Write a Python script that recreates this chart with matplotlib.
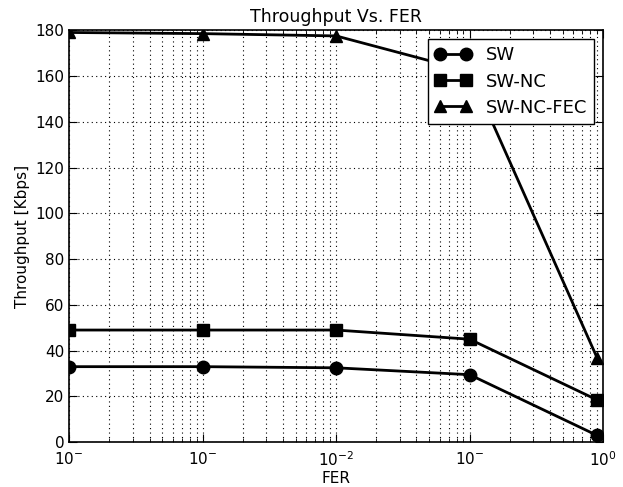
import matplotlib
matplotlib.use("Agg")
import matplotlib.pyplot as plt
from matplotlib.ticker import FixedLocator, FixedFormatter, LogLocator, NullFormatter

fer = [1e-4, 1e-3, 1e-2, 1e-1, 0.9]
sw = [33, 33, 32.5, 29.5, 3]
sw_nc = [49, 49, 49, 45, 18.5]
sw_nc_fec = [179, 178.5, 177.5, 162, 37]
xtick_vals = [1e-4, 1e-3, 1e-2, 1e-1, 1e0]
xtick_labels = ['$10^{-}$', '$10^{-}$', '$10^{-2}$', '$10^{-}$', '$10^{0}$']
yticks = [0, 20, 40, 60, 80, 100, 120, 140, 160, 180]

plt.rcParams['font.family'] = 'DejaVu Sans'
plt.rcParams['mathtext.default'] = 'regular'

fig = plt.figure(figsize=(6.23, 4.87), dpi=100)
ax = fig.add_axes([0.111, 0.092, 0.857, 0.846])

ax.plot(fer, sw, 'k-o', lw=2, ms=9, label='SW')
ax.plot(fer, sw_nc, 'k-s', lw=2, ms=9, label='SW-NC')
ax.plot(fer, sw_nc_fec, 'k-^', lw=2, ms=9, label='SW-NC-FEC')

ax.set_xscale('log')
ax.set_xlim(1e-4, 1e0)
ax.set_ylim(0, 180)
ax.xaxis.set_major_locator(FixedLocator(xtick_vals))
ax.xaxis.set_major_formatter(FixedFormatter(xtick_labels))
ax.xaxis.set_minor_locator(LogLocator(base=10, subs=range(2, 10)))
ax.xaxis.set_minor_formatter(NullFormatter())
ax.set_yticks(yticks)

ax.grid(True, which='major', color='k', linestyle=(0, (1, 3)), linewidth=0.8)
ax.grid(True, which='minor', axis='x', color='k', linestyle=(0, (1, 3)), linewidth=0.8)

ax.tick_params(which='both', direction='in', top=True, right=True, labelsize=11)
ax.tick_params(axis='x', pad=6)
ax.tick_params(which='major', length=6)
ax.tick_params(which='minor', length=3)
for s in ax.spines.values():
    s.set_linewidth(1.2)

ax.set_title('Throughput Vs. FER', fontsize=12.5)
ax.set_xlabel('FER', fontsize=11, labelpad=1)
ax.set_ylabel('Throughput [Kbps]', fontsize=11)

leg = ax.legend(loc='upper right', numpoints=2, fontsize=13, fancybox=False,
                framealpha=1, edgecolor='k', borderaxespad=0.5, handlelength=2.0,
                labelspacing=0.45)
leg.get_frame().set_linewidth(1)

fig.savefig('out.png', dpi=100, facecolor='white')
